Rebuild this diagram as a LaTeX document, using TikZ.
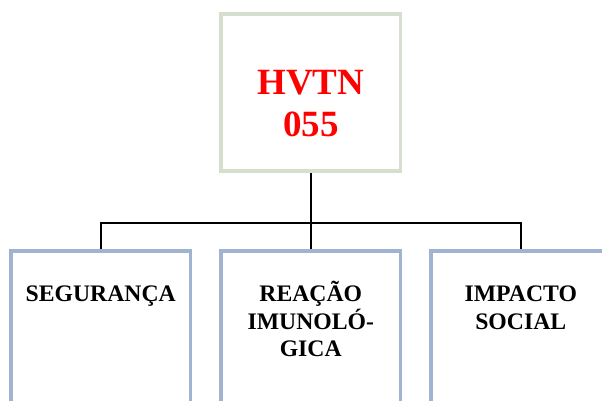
\documentclass[tikz,border=0pt]{standalone}
\usepackage{fontspec}
\setmainfont{Liberation Serif}
\usetikzlibrary{calc}
\definecolor{topborder}{RGB}{212,223,206}
\definecolor{boxborder}{RGB}{160,180,210}
\tikzset{
  topbox/.style={draw=topborder, line width=3.7pt, minimum width=179.5pt, minimum height=157pt, inner sep=0pt},
  subbox/.style={draw=boxborder, line width=3.7pt, minimum width=179.5pt, minimum height=200pt, inner sep=0pt},
  conn/.style={line width=1.8pt, draw=black},
  lbl/.style={anchor=base, inner sep=0pt, font=\bfseries\fontsize{23.7}{27.5}\selectfont},
  toplbl/.style={anchor=base, inner sep=0pt, text=red, font=\bfseries\fontsize{37}{42.4}\selectfont},
}
\begin{document}
\begin{tikzpicture}[x=1pt,y=1pt]
  \useasboundingbox (0,0) rectangle (602,401);
  \clip (0,0) rectangle (602,401);
  \node[topbox] (top) at (310.75,308.5) {};
  \node[subbox] (b1) at (100.75,50) {};
  \node[subbox] (b2) at (310.75,50) {};
  \node[subbox] (b3) at (520.75,50) {};
  \coordinate (bus) at (0,177.7);
  \draw[conn] (top.south) -- (top.south |- bus);
  \draw[conn] (b1.north) -- (b1.north |- bus) -- (b3.north |- bus) -- (b3.north);
  \draw[conn] (b2.north) -- (b2.north |- bus);
  \node[toplbl] (t0) at (310.75,306.7) {\parbox[t]{170pt}{\centering HVTN\\055}};
  \node[lbl] (t1) at (100.75,99.3) {\parbox[t]{170pt}{\centering SEGURANÇA}};
  \node[lbl] (t2) at (310.75,99.3) {\parbox[t]{170pt}{\centering REAÇÃO\\IMUNOLÓ-\\GICA}};
  \node[lbl] (t3) at (520.75,99.3) {\parbox[t]{170pt}{\centering IMPACTO\\SOCIAL}};
\end{tikzpicture}
\end{document}
